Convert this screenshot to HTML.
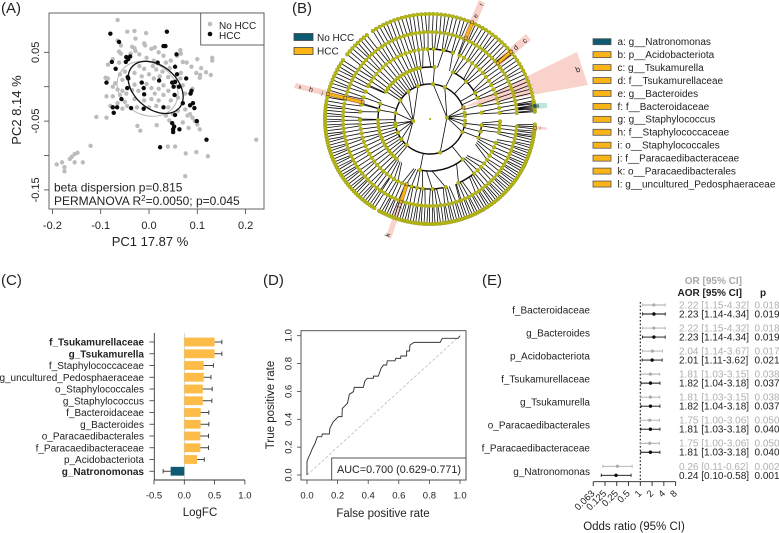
<!DOCTYPE html>
<html>
<head>
<meta charset="utf-8">
<title>Composite microbiome figure</title>
<style>
html,body{margin:0;padding:0;background:#fff;}
svg{display:block;font-family:"Liberation Sans",Arial,sans-serif;fill:#222;filter:blur(0.3px);}
text{fill:#222;}
</style>
</head>
<body>
<svg id="fig" xmlns="http://www.w3.org/2000/svg" width="779" height="533" viewBox="0 0 779 533">
  <rect x="0" y="0" width="779" height="533" fill="#fff"/>
  <text x="1" y="13" font-size="15">(A)</text>
  <text x="292" y="13" font-size="15">(B)</text>
  <text x="1" y="285" font-size="15">(C)</text>
  <text x="263" y="285" font-size="15">(D)</text>
  <text x="482" y="285" font-size="15">(E)</text>

  <g id="panelA">
    <text x="150" y="246" font-size="13" text-anchor="middle">PC1 17.87 %</text>
    <text transform="translate(21,110) rotate(-90)" font-size="13" text-anchor="middle">PC2 8.14 %</text>
  </g>
  <g id="panelB"></g>
  <g id="panelC">
    <text x="200" y="516" font-size="11.5" text-anchor="middle">LogFC</text>
  </g>
  <g id="panelD">
    <text x="383" y="517" font-size="11.5" text-anchor="middle">False positive rate</text>
    <text transform="translate(274,405) rotate(-90)" font-size="11.5" text-anchor="middle">True positive rate</text>
  </g>
  <g id="panelE">
    <text x="742" y="284" font-size="10" font-weight="bold" text-anchor="end" style="fill:#a8a8a8">OR [95% CI]</text>
    <text x="742" y="296" font-size="10" font-weight="bold" text-anchor="end">AOR [95% CI]</text>
    <text x="763" y="296" font-size="10" font-weight="bold" text-anchor="middle">p</text>
    <text x="634" y="530" font-size="11.5" text-anchor="middle">Odds ratio (95% CI)</text>
  </g>
</svg>
<script>
/* ---------- Panel A data ---------- */
var pcaGrayX = [-0.065,0.222,0.075,0.122,0.098,0.076,0.054,0.039,-0.121,-0.191,-0.180,-0.175,-0.175,-0.164,-0.160,-0.154,-0.148,-0.154,-0.137,-0.109,-0.088,-0.024,-0.018,0.016,0.042,-0.045,-0.030,-0.006,-0.065,-0.058,-0.028,-0.010,0.005,-0.008,-0.035,-0.030,-0.028,-0.038,-0.062,-0.058,-0.020,0.012,0.020,0.030,0.065,0.066,0.058,0.078,0.045,0.035,-0.005,0.010,0.100,0.131,0.131,0.108,0.098,0.106,0.118,0.128,0.105,0.088,0.070,0.066,0.065,0.043,0.040,0.028,0.015,0.008,-0.010,-0.020,-0.030,-0.015,0,0.010,0.022,-0.085,-0.075,-0.062,-0.090,-0.085,-0.060,-0.055,-0.070,-0.050,-0.075,-0.065,-0.055,-0.047,-0.035,-0.060,-0.088,-0.075,-0.030,-0.022,-0.005,0.005,0.020,0.030,0.040,0.012,0.030,0.070,0.090,0.075,0.060,0.045,0.020,0.005,-0.010,-0.030,-0.050,-0.065,-0.080,-0.055,-0.045,-0.025,0,0.015,0.040,0.060,0.075,0.085,0.090,0.095,0.080,0.070,0.082,0.105,0.050,0.035,0.100];
var pcaGrayY = [0.097,-0.077,-0.130,-0.101,-0.095,-0.097,-0.087,-0.087,-0.086,-0.113,-0.110,-0.117,-0.123,-0.105,-0.102,-0.098,-0.096,-0.110,-0.110,-0.044,-0.045,-0.057,-0.064,-0.056,-0.049,0.080,0.081,0.078,0.067,0.060,0.070,0.063,0.055,0.060,0.058,0.056,0.052,0.048,0.051,0.048,0.047,0.057,0.050,0.045,0.053,0.048,0.045,0.035,0.038,0.035,0.042,0.038,0.040,0.042,0.038,0.027,0.020,0.017,0.021,0.017,0.013,0.029,0.036,0.020,0.012,0.027,0.014,0.022,0.025,0.030,0.026,0.030,0.020,0.015,0.018,0.012,0.015,0.032,0.040,0.035,0.013,0.012,0.018,0.010,0.005,0.022,0,-0.004,-0.006,-0.010,-0.005,-0.012,-0.014,-0.014,0.003,-0.006,0.004,-0.002,-0.003,0.002,-0.006,-0.010,-0.012,0.002,-0.003,-0.010,-0.016,-0.020,-0.020,-0.018,-0.020,-0.018,-0.022,-0.024,-0.028,-0.032,-0.028,-0.030,-0.030,-0.028,-0.030,-0.035,-0.033,-0.040,-0.045,-0.050,-0.042,-0.052,-0.060,-0.062,-0.040,-0.042,-0.055];
var pcaBlackX = [-0.080,0.037,-0.062,0.030,0.034,0.057,-0.047,-0.039,-0.043,-0.048,-0.077,-0.069,0.018,0.054,0.058,-0.044,-0.043,-0.088,0.077,0.021,-0.015,0.048,0.054,0.051,-0.045,-0.011,-0.010,0.062,0.088,0.086,0.053,-0.057,0.070,0.091,0.085,0.094,-0.075,-0.066,-0.037,-0.011,0.030,-0.073,0.054,0.099,0.048,0.052,0.050,0.050,0.063,0.119,0.023];
var pcaBlackY = [0.077,0.080,0.065,0.059,0.059,0.047,0.043,0.044,0.040,0.036,0.036,0.026,0.035,0.029,0.018,0.014,0.012,0.006,0.012,0.009,0.006,0.006,0.007,0,-0.002,-0.002,-0.011,0,-0.006,-0.010,-0.012,-0.018,-0.024,-0.024,-0.027,-0.031,-0.030,-0.030,-0.031,-0.032,-0.030,-0.038,-0.041,-0.050,-0.053,-0.058,-0.062,-0.066,-0.062,-0.077,-0.088];
var pcaXTicks = [-0.2,-0.1,0.0,0.1,0.2];
var pcaYTicks = [-0.15,-0.10,-0.05,0,0.05];
var pcaYTickLabels = ["-0.15","","-0.05","","0.05"];
var pcaGrayEllipse = [-0.003,0.063,-0.003,0.040,100];
var pcaBlackEllipse = [0.0138,0.057,-0.001,0.038,111];

/* ---------- Panel B tree: [start angle, end angle, node count] per ring ---------- */
var treeLeaves = [[4,9,8],[10,60,24],[60,123,30],[127,142,8],[146,170,13],[172,238,42],[241,300,40],[300,350,34],[351,357,6]];
var treeLevel5 = [[4,66,24],[67,167,38],[170,235,25],[236,290,22],[291,355,25]];
var treeLevel4 = [[5,65,16],[71,87,3],[92,151,17],[152,167,4],[168,180,3],[181,250,20],[250,264,4],[272,294,3],[309,340,9],[349,358,4]];
var treeLevel3 = [[7,24,3],[30,30,1],[46,46,1],[64,64,1],[85,85,1],[101,148,13],[163,163,1],[170,170,1],[181,230,13],[259,259,1],[309,309,1],[339,353,3]];
var treeLevel2 = [19,10,5,-3,-10,-22,-73,228,215,203,192,187,170,148,128,110,85,65];
var treeLevel1 = [5,187];
var thickArcs = [[35,19,350],[52,163,181],[52,85,101],[52,259,309],[52,24,64],[52,339,353],[70,71,92],[70,250,281],[70,294,309]];
var treeRadii = [17,35,52,70,87,105];
var treeLandingKeep = [1,1,1,0.55,0.65,0.6];

/* ---------- Panel C data ---------- */
var lfcTaxa = ["f_Tsukamurellaceae","g_Tsukamurella","f_Staphylococcaceae","g_uncultured_Pedosphaeraceae","o_Staphylococcales","g_Staphylococcus","f_Bacteroidaceae","g_Bacteroides","o_Paracaedibacterales","f_Paracaedibacteraceae","p_Acidobacteriota","g_Natronomonas"];
var lfcValues = [0.50,0.50,0.32,0.32,0.305,0.305,0.27,0.27,0.265,0.265,0.21,-0.225];
var lfcErrors = [0.62,0.62,0.48,0.44,0.46,0.455,0.405,0.405,0.40,0.40,0.33,-0.35];
var lfcBold = [true,true,false,false,false,false,false,false,false,false,false,true];
var lfcTicks = [-0.5,0,0.5,1];
var lfcTickLabels = ["-0.5","0.0","0.5","1.0"];

/* ---------- Panel D data ---------- */
var rocFpr = [0,0,0.011,0.02,0.035,0.052,0.068,0.096,0.10,0.146,0.15,0.172,0.205,0.229,0.231,0.264,0.277,0.303,0.309,0.368,0.379,0.394,0.434,0.434,0.466,0.484,0.50,0.52,0.525,0.575,0.58,0.612,0.614,0.651,0.651,0.669,0.673,0.70,0.87,0.885,0.989,1];
var rocTpr = [0,0.096,0.13,0.15,0.19,0.227,0.275,0.275,0.294,0.294,0.335,0.383,0.419,0.419,0.478,0.514,0.579,0.598,0.629,0.629,0.677,0.694,0.694,0.71,0.71,0.766,0.79,0.79,0.82,0.82,0.837,0.837,0.854,0.854,0.89,0.89,0.933,0.952,0.952,0.981,0.981,1];
var rocTicks = [0,0.2,0.4,0.6,0.8,1];
var rocTickLabels = ["0.0","0.2","0.4","0.6","0.8","1.0"];

/* ---------- Panel E data ---------- */
var orTaxa = ["f_Bacteroidaceae","g_Bacteroides","p_Acidobacteriota","f_Tsukamurellaceae","g_Tsukamurella","o_Paracaedibacterales","f_Paracaedibacteraceae","g_Natronomonas"];
var orEst = [2.22,2.22,2.04,1.81,1.81,1.75,1.75,0.26];
var orLow = [1.15,1.15,1.14,1.03,1.03,1.00,1.00,0.11];
var orHigh = [4.32,4.32,3.67,3.15,3.15,3.06,3.06,0.62];
var orP = ["0.018","0.018","0.017","0.038","0.038","0.050","0.050","0.002"];
var aorEst = [2.23,2.23,2.01,1.82,1.82,1.81,1.81,0.24];
var aorLow = [1.14,1.14,1.11,1.04,1.04,1.03,1.03,0.10];
var aorHigh = [4.34,4.34,3.62,3.18,3.18,3.18,3.18,0.58];
var aorP = ["0.019","0.019","0.021","0.037","0.037","0.040","0.040","0.001"];
var orTicks = [0.0625,0.125,0.25,0.5,1,2,4,8];
var orTickLabels = ["0.063","0.125","0.25","0.5","1","2","4","8"];

/* ---------- Legend B ---------- */
var cladeLegend = ["a: g__Natronomonas","b: p__Acidobacteriota","c: g__Tsukamurella","d: f__Tsukamurellaceae","e: g__Bacteroides","f: f__Bacteroidaceae","g: g__Staphylococcus","h: f__Staphylococcaceae","i: o__Staphylococcales","j: f__Paracaedibacteraceae","k: o__Paracaedibacterales","l: g__uncultured_Pedosphaeraceae"];

var NS = "http://www.w3.org/2000/svg";
function mk(tag, parent, attrs, txt) {
  var e = document.createElementNS(NS, tag);
  for (var k in attrs) { e.setAttribute(k, attrs[k]); }
  if (txt !== undefined) { e.textContent = txt; }
  parent.appendChild(e);
  return e;
}
var el;

/* ========== Panel A ========== */
(function () {
  var g = document.getElementById("panelA");
  function sx(v) { return 149 + v * 483; }
  function sy(v) { return 86.7 - v * 688; }
  var left = 49, right = 264, top = 13, bottom = 209;
  el = mk("rect", g, {x: left, y: top, width: right - left, height: bottom - top, fill: "#fff", stroke: "#555", "stroke-width": 0.9});
  
  
  pcaGrayX.forEach(function (v, i) {
    el = mk("circle", g, {cx: sx(v), cy: sy(pcaGrayY[i]), r: 2.2, fill: "#bcbcbc"});
    
    
  });
  function ell(p, color, w) {
    var d = "";
    for (var t = 0; t <= 360; t += 6) {
      var a = t * Math.PI / 180;
      var x = p[0] + p[1] * Math.cos(a);
      var y = p[2] + p[3] * Math.cos(a + p[4] * Math.PI / 180);
      d += (t ? "L" : "M") + sx(x).toFixed(1) + " " + sy(y).toFixed(1);
    }
    return mk("path", g, {d: d + "Z", fill: "none", stroke: color, "stroke-width": w});
  }
  el = ell(pcaGrayEllipse, "#bcbcbc", 1.1);
  
  
  pcaBlackX.forEach(function (v, i) {
    el = mk("circle", g, {cx: sx(v), cy: sy(pcaBlackY[i]), r: 2.2, fill: "#0a0a0a"});
    
    
  });
  el = ell(pcaBlackEllipse, "#111", 1.3);
  
  
  pcaXTicks.forEach(function (v) {
    el = mk("line", g, {x1: sx(v), x2: sx(v), y1: bottom, y2: bottom + 5, stroke: "#444", "stroke-width": 0.8});
    
    
    el = mk("text", g, {x: sx(v), y: 229, "font-size": 11, "text-anchor": "middle"}, v.toFixed(1));
    
    
  });
  pcaYTicks.forEach(function (v, i) {
    el = mk("line", g, {x1: left - 5, x2: left, y1: sy(v), y2: sy(v), stroke: "#444", "stroke-width": 0.8});
    
    
    if (pcaYTickLabels[i]) {
      el = mk("text", g, {transform: "translate(39," + sy(v) + ") rotate(-90)", "font-size": 11, "text-anchor": "middle"}, pcaYTickLabels[i]);
      
      
    }
  });
  el = mk("rect", g, {x: 200.7, y: 13, width: 63.3, height: 32, fill: "#fff", stroke: "#555", "stroke-width": 0.9});
  
  
  el = mk("circle", g, {cx: 210, cy: 24, r: 2.3, fill: "#bcbcbc"});
  
  
  el = mk("circle", g, {cx: 210, cy: 34, r: 2.3, fill: "#0a0a0a"});
  
  
  el = mk("text", g, {x: 219, y: 29, "font-size": 10}, "No HCC");
  
  
  el = mk("text", g, {x: 219, y: 39, "font-size": 10}, "HCC");
  
  
  el = mk("text", g, {x: 54, y: 191.5, "font-size": 12}, "beta dispersion p=0.815");
  
  
  el = mk("text", g, {x: 54, y: 205, "font-size": 12});
  
  
  el.innerHTML = 'PERMANOVA R<tspan dy="-4" font-size="8">2</tspan><tspan dy="4">=0.0050; p=0.045</tspan>';
})();

/* ========== Panel B ========== */
(function () {
  var g = document.getElementById("panelB");
  var cx = 430, cy = 119;
  var PINK = "#f9d2cb", ORANGE = "#fbb417", NODE = "#b6b814", EDGE = "#7d7d10";
  function pt(r, a) {
    var t = a * Math.PI / 180;
    return [cx + r * Math.cos(t), cy - r * Math.sin(t)];
  }
  function poly(points, fill, name) {
    el = mk("polygon", g, {points: points, fill: fill});
    
    
  }
  poly("464,107 577,52 588,85", PINK, "clade-b-highlight");
  poly("463,37 469,40 485,3 479,0", PINK, "clade-e-f-highlight");
  poly("495,61 500,66 531,40 526,34", PINK, "clade-c-d-highlight");
  poly("364,99 362,105 294,88 296,83", PINK, "clade-g-h-i-highlight");
  poly("404,183 409,185 391,239 386,237", PINK, "clade-j-k-highlight");
  poly("533,103 533,109 547,108 547,103", "#bfe6da", "clade-a-highlight");
  poly("533,126 533,130 547,129.5 547,127.5", PINK, "clade-l-highlight");

  function expand(list) {
    var out = [];
    list.forEach(function (f) {
      var n = f[2];
      for (var i = 0; i < n; i++) {
        out.push(n === 1 ? f[0] : f[0] + (f[1] - f[0]) * i / (n - 1));
      }
    });
    return out;
  }
  function angDiff(a, b) { return ((a - b + 540) % 360) - 180; }
  function nearest(a, arr) {
    var best = arr[0], bd = 999;
    arr.forEach(function (b) {
      var d = Math.abs(angDiff(a, b));
      if (d < bd) { bd = d; best = b; }
    });
    return best;
  }
  var levels = [treeLevel1, treeLevel2, expand(treeLevel3), expand(treeLevel4), expand(treeLevel5), expand(treeLeaves)];
  var d = "";
  for (var l = 1; l < levels.length; l++) {
    levels[l].forEach(function (a) {
      var p = nearest(a, levels[l - 1]);
      var keep = treeLandingKeep[l];
      var land = (l === 1) ? p : p + angDiff(a, p) * keep;
      var c = pt(treeRadii[l], a), q = pt(treeRadii[l - 1], land);
      d += "M" + c[0].toFixed(1) + " " + c[1].toFixed(1) + "L" + q[0].toFixed(1) + " " + q[1].toFixed(1);
    });
  }
  el = mk("path", g, {d: d, fill: "none", stroke: "#0a0a0a", "stroke-width": 0.8});
  
  
  thickArcs.forEach(function (c) {
    var s = pt(c[0], c[1]), e = pt(c[0], c[2]);
    var span = c[2] - c[1];
    el = mk("path", g, {d: "M" + s[0] + " " + s[1] + "A" + c[0] + " " + c[0] + " 0 " + (span > 180 ? 1 : 0) + " 0 " + e[0] + " " + e[1], fill: "none", stroke: "#0a0a0a", "stroke-width": 1.4});
    
    
  });
  levels.forEach(function (list, l) {
    list.forEach(function (a) {
      var q = pt(treeRadii[l], a);
      el = mk("circle", g, {cx: q[0], cy: q[1], r: 1.9, fill: NODE, stroke: EDGE, "stroke-width": 0.3});
      
      
    });
  });
  el = mk("circle", g, {cx: cx, cy: cy, r: 1.1, fill: NODE});
  
  

  function band(x1, y1, x2, y2, name) {
    el = mk("line", g, {x1: x1, y1: y1, x2: x2, y2: y2, stroke: "#6b5a20", "stroke-width": 3.6});
    
    
    el = mk("line", g, {x1: x1, y1: y1, x2: x2, y2: y2, stroke: ORANGE, "stroke-width": 2.8});
    
    
  }
  band(465.7, 38.3, 472.3, 22.3, "clade-e-f-band");
  band(497.7, 63.3, 511, 51.7, "clade-c-d-band");
  band(362.7, 102.3, 327.7, 94, "clade-g-h-i-band");
  band(406.7, 184.3, 401, 201.7, "clade-j-k-band");
  var orangeNodes = [[465.7,38.3],[472.3,22.3],[497.7,63.3],[511,51.7],[362.7,102.3],[345,98],[327.7,94],[406.7,184.3],[401,201.7],[535,128],[463.5,107.5]];
  orangeNodes.forEach(function (p) {
    el = mk("rect", g, {x: p[0] - 1.5, y: p[1] - 1.5, width: 3, height: 3, fill: ORANGE, stroke: "#444", "stroke-width": 0.5});
    
    
  });
  el = mk("rect", g, {x: 533.5, y: 104.5, width: 3, height: 3, fill: "#0d5a72", stroke: "#333", "stroke-width": 0.4});
  
  

  var cladeLetters = [["e",476,16,-67,6.5],["f",482,5,-67,5.5],["d",516,48,-41,7],["c",525,41,-41,7.5],["i",322,94,14,6],["h",311,90,14,7],["g",300,87,14,4],["j",399,207,-72,6],["k",388,235,-72,7],["b",578,70,-22,8],["a",538,106,0,5],["l",540,128,0,4]];
  cladeLetters.forEach(function (t) {
    el = mk("text", g, {transform: "translate(" + t[1] + "," + t[2] + ") rotate(" + t[3] + ")", "font-size": t[4], "text-anchor": "middle", "dominant-baseline": "middle"}, t[0]);
    
    
  });

  el = mk("rect", g, {x: 294, y: 33.5, width: 19, height: 7, fill: "#0d5a72", stroke: "#444", "stroke-width": 0.8});
  
  
  el = mk("rect", g, {x: 294, y: 47.5, width: 19, height: 7, fill: ORANGE, stroke: "#444", "stroke-width": 0.8});
  
  
  el = mk("text", g, {x: 317, y: 41, "font-size": 10}, "No HCC");
  
  
  el = mk("text", g, {x: 317, y: 54.5, "font-size": 10}, "HCC");
  
  

  cladeLegend.forEach(function (t, i) {
    var y = 41.7 + i * 12.94;
    el = mk("rect", g, {x: 593, y: y - 3, width: 18, height: 6, fill: i === 0 ? "#0d5a72" : ORANGE, stroke: "#555", "stroke-width": 0.8});
    
    
    el = mk("text", g, {x: 617.5, y: y + 3.4, "font-size": 10}, t);
    
    
  });
})();

/* ========== Panel C ========== */
(function () {
  var g = document.getElementById("panelC");
  function sx(v) { return 184.3 + v * 60.6; }
  function sy(i) { return 342 + i * 11.75; }
  el = mk("line", g, {x1: sx(0), x2: sx(0), y1: 333, y2: 480, stroke: "#c8c8c8", "stroke-width": 0.8});
  
  
  lfcValues.forEach(function (v, i) {
    var y = sy(i), x0 = Math.min(sx(0), sx(v)), w = Math.abs(sx(v) - sx(0));
    el = mk("rect", g, {x: x0, y: y - 4.4, width: w, height: 8.8, fill: v > 0 ? "#fdbb47" : "#0d5a72"});
    
    
    el = mk("line", g, {x1: sx(v), x2: sx(lfcErrors[i]), y1: y, y2: y, stroke: "#333", "stroke-width": 0.9});
    
    
    el = mk("line", g, {x1: sx(lfcErrors[i]), x2: sx(lfcErrors[i]), y1: y - 2.2, y2: y + 2.2, stroke: "#333", "stroke-width": 0.9});
    
    
    el = mk("line", g, {x1: 149.5, x2: 154.3, y1: y, y2: y, stroke: "#333", "stroke-width": 0.8});
    
    
    el = mk("text", g, {x: 144, y: y + 3.5, "font-size": 10, "text-anchor": "end", "font-weight": lfcBold[i] ? "bold" : "normal"}, lfcTaxa[i]);
    
    
  });
  el = mk("line", g, {x1: 154.3, x2: 154.3, y1: 333, y2: 480, stroke: "#333", "stroke-width": 0.9});
  
  
  el = mk("line", g, {x1: 154.3, x2: 245, y1: 480, y2: 480, stroke: "#333", "stroke-width": 0.9});
  
  
  lfcTicks.forEach(function (v, i) {
    el = mk("line", g, {x1: sx(v), x2: sx(v), y1: 480, y2: 484.5, stroke: "#333", "stroke-width": 0.8});
    
    
    el = mk("text", g, {x: sx(v), y: 498.5, "font-size": 9.5, "text-anchor": "middle"}, lfcTickLabels[i]);
    
    
  });
})();

/* ========== Panel D ========== */
(function () {
  var g = document.getElementById("panelD");
  function sx(v) { return 307 + v * 153; }
  function sy(v) { return 475 - v * 139.3; }
  el = mk("rect", g, {x: 301, y: 330.7, width: 165, height: 149.3, fill: "#fff", stroke: "#444", "stroke-width": 0.9});
  
  
  el = mk("line", g, {x1: sx(0), y1: sy(0), x2: sx(1), y2: sy(1), stroke: "#bbb", "stroke-width": 0.8, "stroke-dasharray": "3 2"});
  
  
  var d = "";
  rocFpr.forEach(function (v, i) {
    d += (i ? "L" : "M") + sx(v).toFixed(1) + " " + sy(rocTpr[i]).toFixed(1);
  });
  el = mk("path", g, {d: d, fill: "none", stroke: "#333", "stroke-width": 0.95});
  
  
  rocTicks.forEach(function (v, i) {
    el = mk("line", g, {x1: sx(v), x2: sx(v), y1: 480, y2: 484, stroke: "#444", "stroke-width": 0.8});
    
    
    el = mk("text", g, {x: sx(v), y: 498.5, "font-size": 9.5, "text-anchor": "middle"}, rocTickLabels[i]);
    
    
    el = mk("line", g, {x1: 297, x2: 301, y1: sy(v), y2: sy(v), stroke: "#444", "stroke-width": 0.8});
    
    
    el = mk("text", g, {transform: "translate(291.5," + sy(v) + ") rotate(-90)", "font-size": 9.5, "text-anchor": "middle"}, rocTickLabels[i]);
    
    
  });
  el = mk("rect", g, {x: 331.7, y: 458, width: 134.3, height: 22, fill: "#fff", stroke: "#444", "stroke-width": 0.9});
  
  
  el = mk("text", g, {x: 337, y: 473, "font-size": 11, textLength: 124, lengthAdjust: "spacingAndGlyphs"}, "AUC=0.700 (0.629-0.771)");
  
  
})();

/* ========== Panel E ========== */
(function () {
  var g = document.getElementById("panelE");
  function sx(v) { return 640.3 + Math.log(v) / Math.LN2 * 11.77; }
  function syOr(i) { return 305 + i * 23.04; }
  function syAor(i) { return 314 + i * 23.04; }
  el = mk("line", g, {x1: sx(1), x2: sx(1), y1: 302, y2: 481, stroke: "#111", "stroke-width": 1.1, "stroke-dasharray": "1.6 2"});
  
  
  function row(i, y, est, lo, hi, color, r) {
    el = mk("line", g, {x1: sx(lo), x2: sx(hi), y1: y, y2: y, stroke: color, "stroke-width": 0.9});
    
    
    el = mk("line", g, {x1: sx(lo), x2: sx(lo), y1: y - 1.6, y2: y + 1.6, stroke: color, "stroke-width": 0.8});
    
    
    el = mk("line", g, {x1: sx(hi), x2: sx(hi), y1: y - 1.6, y2: y + 1.6, stroke: color, "stroke-width": 0.8});
    
    
    el = mk("circle", g, {cx: sx(est), cy: y, r: r, fill: color});
    
    
  }
  function fmt(e, l, h) { return e.toFixed(2) + " [" + l.toFixed(2) + "-" + h.toFixed(2) + "]"; }
  orTaxa.forEach(function (t, i) {
    row(i, syOr(i), orEst[i], orLow[i], orHigh[i], "#aaaaaa", 1.6);
    row(i, syAor(i), aorEst[i], aorLow[i], aorHigh[i], "#0a0a0a", 1.7);
    el = mk("text", g, {x: 590, y: 313.5 + i * 23.04, "font-size": 10, "text-anchor": "end"}, t);
    
    
    el = mk("text", g, {x: 679, y: syOr(i) + 3.5, "font-size": 10, style: "fill:#b0b0b0"}, fmt(orEst[i], orLow[i], orHigh[i]));
    
    
    el = mk("text", g, {x: 754.5, y: syOr(i) + 3.5, "font-size": 10, style: "fill:#b0b0b0"}, orP[i]);
    
    
    el = mk("text", g, {x: 679, y: syAor(i) + 3.5, "font-size": 10}, fmt(aorEst[i], aorLow[i], aorHigh[i]));
    
    
    el = mk("text", g, {x: 754.5, y: syAor(i) + 3.5, "font-size": 10}, aorP[i]);
    
    
  });
  el = mk("line", g, {x1: sx(orTicks[0]), x2: sx(orTicks[orTicks.length - 1]), y1: 481.7, y2: 481.7, stroke: "#222", "stroke-width": 0.9});
  
  
  orTicks.forEach(function (v, i) {
    el = mk("line", g, {x1: sx(v), x2: sx(v), y1: 481.7, y2: 486, stroke: "#222", "stroke-width": 0.9});
    
    
    el = mk("text", g, {transform: "translate(" + (sx(v) + 2) + ",494) rotate(-45)", "font-size": 9.5, "text-anchor": "end"}, orTickLabels[i]);
    
    
  });
})();
</script>
</body>
</html>
